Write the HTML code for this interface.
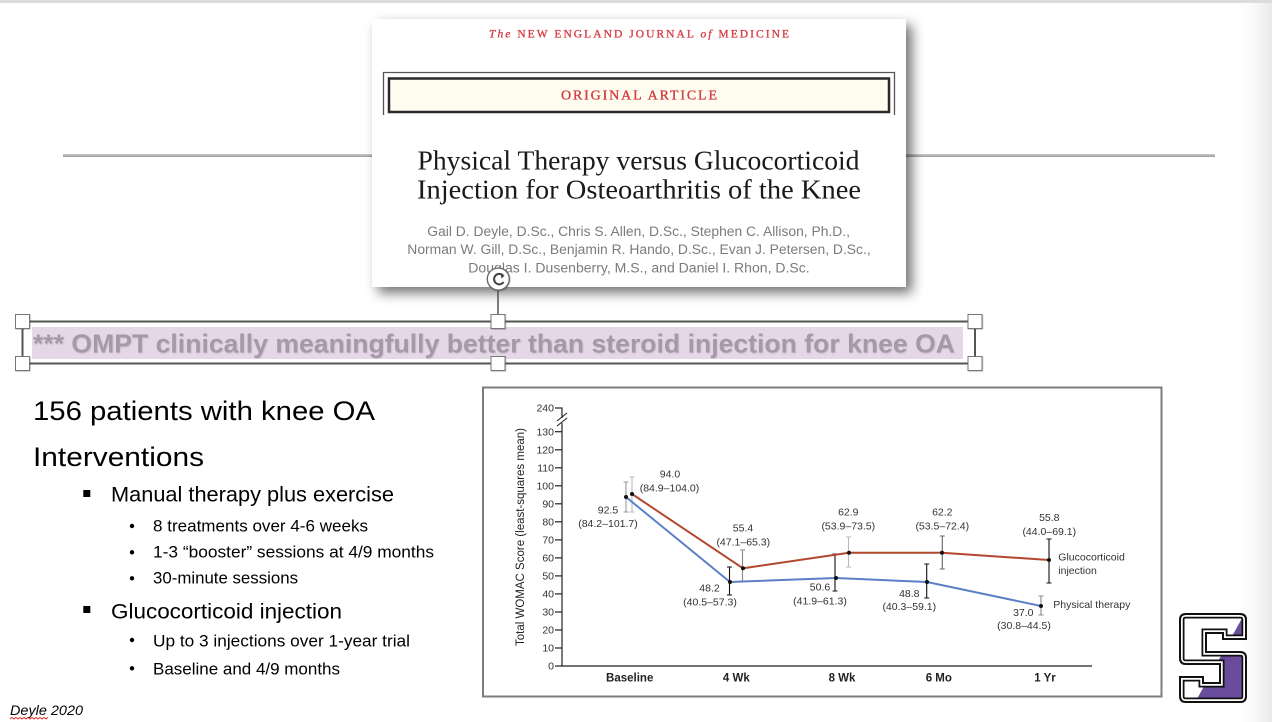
<!DOCTYPE html>
<html>
<head>
<meta charset="utf-8">
<style>
html,body{margin:0;padding:0;background:#fff;}
body{width:1272px;height:722px;overflow:hidden;}
svg{display:block;}
</style>
</head>
<body>
<svg width="1272" height="722" viewBox="0 0 1272 722" xmlns="http://www.w3.org/2000/svg">
<defs>
  <filter id="cardShadow" x="-5%" y="-5%" width="115%" height="125%">
    <feDropShadow dx="6" dy="6" stdDeviation="6" flood-color="#000" flood-opacity="0.55"/>
  </filter>
  <filter id="hShadow" x="-20%" y="-20%" width="160%" height="160%">
    <feDropShadow dx="0.5" dy="0.5" stdDeviation="0.6" flood-color="#000" flood-opacity="0.35"/>
  </filter>
  <filter id="txtShadow" x="-2%" y="-20%" width="104%" height="150%">
    <feDropShadow dx="0.6" dy="0.8" stdDeviation="0.5" flood-color="#000" flood-opacity="0.15"/>
  </filter>
  <linearGradient id="rightFade" x1="0" y1="0" x2="1" y2="0">
    <stop offset="0" stop-color="#fff" stop-opacity="0"/>
    <stop offset="1" stop-color="#e9e9e9" stop-opacity="1"/>
  </linearGradient>
  <linearGradient id="hline" x1="0" y1="0" x2="0" y2="1">
    <stop offset="0" stop-color="#cfcfcf"/>
    <stop offset="1" stop-color="#9a9a9a"/>
  </linearGradient>
  <path id="sPath" d="M7,0 H61 Q68,0 68,7 V27 H43 V21 H28 V38 H61 Q68,38 68,45 V83 Q68,90 61,90 H7 Q0,90 0,83 V63 H25 V69 H40 V52 H7 Q0,52 0,45 V7 Q0,0 7,0 Z"/>
  <clipPath id="sClip">
    <use href="#sPath"/>
  </clipPath>
</defs>

<!-- slide background bits -->
<rect x="0" y="0" width="1272" height="722" fill="#fff"/>
<rect x="1232" y="0" width="40" height="722" fill="url(#rightFade)"/>
<rect x="0" y="0" width="1272" height="3" fill="#dcdcdc"/>

<!-- horizontal rule -->
<rect x="63" y="154" width="1152" height="3" fill="url(#hline)"/>

<!-- NEJM card -->
<g filter="url(#cardShadow)">
  <rect x="372" y="19" width="534" height="268" fill="#fff"/>
</g>
<text x="489" y="37.5" font-family="Liberation Serif, serif" font-size="11.5" fill="#d63f47" stroke="#d63f47" stroke-width="0.35" textLength="300" lengthAdjust="spacing"><tspan font-style="italic">The</tspan> NEW ENGLAND JOURNAL <tspan font-style="italic">of</tspan> MEDICINE</text>
<!-- outer frame (open bottom) -->
<path d="M383.5,115 V72.5 H894.5 V115" fill="none" stroke="#555" stroke-width="1.3"/>
<rect x="389" y="78.5" width="500" height="33.5" fill="#fffdf0" stroke="#2a2a2a" stroke-width="2.5"/>
<text x="561" y="99.5" font-family="Liberation Serif, serif" font-size="14" fill="#d43a40" stroke="#d43a40" stroke-width="0.35" textLength="156" lengthAdjust="spacing">ORIGINAL ARTICLE</text>
<text x="417.5" y="169.5" font-family="Liberation Serif, serif" font-size="27" fill="#1a1a1a" textLength="442" lengthAdjust="spacingAndGlyphs">Physical Therapy versus Glucocorticoid</text>
<text x="417" y="198.5" font-family="Liberation Serif, serif" font-size="27" fill="#1a1a1a" textLength="444" lengthAdjust="spacingAndGlyphs">Injection for Osteoarthritis of the Knee</text>
<g font-family="Liberation Sans, sans-serif" font-size="13.5" fill="#7b7b7b">
  <text x="427.3" y="236" textLength="422.7" lengthAdjust="spacingAndGlyphs">Gail D. Deyle, D.Sc., Chris S. Allen, D.Sc., Stephen C. Allison, Ph.D.,</text>
  <text x="407.3" y="254" textLength="463.4" lengthAdjust="spacingAndGlyphs">Norman W. Gill, D.Sc., Benjamin R. Hando, D.Sc., Evan J. Petersen, D.Sc.,</text>
  <text x="468.3" y="272.3" textLength="341.4" lengthAdjust="spacingAndGlyphs">Douglas I. Dusenberry, M.S., and Daniel I. Rhon, D.Sc.</text>
</g>

<!-- rotation handle -->
<line x1="498" y1="290" x2="498" y2="316" stroke="#555" stroke-width="1.5"/>
<g filter="url(#hShadow)">
  <circle cx="498.3" cy="279" r="11" fill="#fff" stroke="#666" stroke-width="1.3"/>
</g>
<path d="M503,275.5 A5.2,5.2 0 1 0 503.6,282" fill="none" stroke="#444" stroke-width="2"/>
<path d="M500.5,273.5 L504.5,275.8 L501.5,278.5 Z" fill="#444"/>

<!-- selected textbox -->
<rect x="32" y="327" width="931" height="32" fill="#e5d7e7"/>
<text x="33" y="352.5" font-family="Liberation Sans, Arial, sans-serif" font-weight="bold" font-size="26" fill="#a698a8" textLength="922" lengthAdjust="spacingAndGlyphs" filter="url(#txtShadow)">*** OMPT clinically meaningfully better than steroid injection for knee OA</text>
<g stroke="#555" stroke-width="2" fill="none">
  <line x1="22.5" y1="321.5" x2="975" y2="321.5"/>
  <line x1="22.5" y1="363.5" x2="975" y2="363.5"/>
  <line x1="22.5" y1="321.5" x2="22.5" y2="363.5"/>
  <line x1="975" y1="321.5" x2="975" y2="363.5"/>
</g>
<g fill="#fff" stroke="#777" stroke-width="1" filter="url(#hShadow)">
  <rect x="15.5" y="314.5" width="14" height="14"/>
  <rect x="491" y="314.5" width="14" height="14"/>
  <rect x="968" y="314.5" width="14" height="14"/>
  <rect x="15.5" y="356.5" width="14" height="14"/>
  <rect x="491" y="356.5" width="14" height="14"/>
  <rect x="968" y="356.5" width="14" height="14"/>
</g>

<!-- left text -->
<g font-family="Liberation Sans, Carlito, sans-serif" fill="#000">
  <text x="33" y="420" font-size="27" textLength="342" lengthAdjust="spacingAndGlyphs">156 patients with knee OA</text>
  <text x="33" y="466" font-size="27" textLength="171" lengthAdjust="spacingAndGlyphs">Interventions</text>
  <rect x="83.3" y="490" width="7" height="7"/>
  <text x="111" y="501.7" font-size="21" textLength="283" lengthAdjust="spacingAndGlyphs">Manual therapy plus exercise</text>
  <circle cx="132" cy="526" r="2.2"/>
  <text x="153" y="531.7" font-size="16.3" textLength="215" lengthAdjust="spacingAndGlyphs">8 treatments over 4-6 weeks</text>
  <circle cx="132" cy="552.3" r="2.2"/>
  <text x="153" y="557.7" font-size="16.3" textLength="281" lengthAdjust="spacingAndGlyphs">1-3 “booster” sessions at 4/9 months</text>
  <circle cx="132" cy="578.3" r="2.2"/>
  <text x="153" y="583.7" font-size="16.3" textLength="145" lengthAdjust="spacingAndGlyphs">30-minute sessions</text>
  <rect x="83.3" y="606" width="7" height="7"/>
  <text x="111" y="618.3" font-size="21" textLength="231" lengthAdjust="spacingAndGlyphs">Glucocorticoid injection</text>
  <circle cx="132" cy="640" r="2.2"/>
  <text x="153" y="646.7" font-size="16.3" textLength="257" lengthAdjust="spacingAndGlyphs">Up to 3 injections over 1-year trial</text>
  <circle cx="132" cy="668.3" r="2.2"/>
  <text x="153" y="674.3" font-size="16.3" textLength="187" lengthAdjust="spacingAndGlyphs">Baseline and 4/9 months</text>
  <text x="10" y="715" font-size="14" font-style="italic" textLength="73" lengthAdjust="spacingAndGlyphs">Deyle 2020</text>
</g>
<path d="M10,719 l2,-1.6 l2,1.6 l2,-1.6 l2,1.6 l2,-1.6 l2,1.6 l2,-1.6 l2,1.6 l2,-1.6 l2,1.6 l2,-1.6 l2,1.6 l2,-1.6 l2,1.6 l2,-1.6 l2,1.6 l2,-1.6 l2,1.6 l2,-1.6" fill="none" stroke="#e02020" stroke-width="0.9"/>

<!-- chart frame -->
<rect x="483" y="387.5" width="678.5" height="309" fill="#fff" stroke="#7d7d7d" stroke-width="2"/>

<!-- axes -->
<g stroke="#222" stroke-width="1.2" fill="none">
  <line x1="562" y1="407.5" x2="562" y2="666"/>
  <line x1="562" y1="666" x2="1092" y2="666"/>
  <line x1="555" y1="408" x2="562" y2="408"/>
  <line x1="555" y1="431.7" x2="562" y2="431.7"/>
  <line x1="555" y1="449.8" x2="562" y2="449.8"/>
  <line x1="555" y1="467.8" x2="562" y2="467.8"/>
  <line x1="555" y1="485.8" x2="562" y2="485.8"/>
  <line x1="555" y1="503.8" x2="562" y2="503.8"/>
  <line x1="555" y1="521.8" x2="562" y2="521.8"/>
  <line x1="555" y1="539.9" x2="562" y2="539.9"/>
  <line x1="555" y1="557.9" x2="562" y2="557.9"/>
  <line x1="555" y1="575.9" x2="562" y2="575.9"/>
  <line x1="555" y1="593.9" x2="562" y2="593.9"/>
  <line x1="555" y1="612" x2="562" y2="612"/>
  <line x1="555" y1="630" x2="562" y2="630"/>
  <line x1="555" y1="648" x2="562" y2="648"/>
  <line x1="555" y1="666" x2="562" y2="666"/>
</g>
<!-- axis break -->
<rect x="559" y="418" width="6" height="5" fill="#fff"/>
<g stroke="#222" stroke-width="1.1">
  <line x1="557" y1="421" x2="567" y2="413"/>
  <line x1="557" y1="426" x2="567" y2="418"/>
</g>
<g font-family="Liberation Sans, sans-serif" font-size="10.5" fill="#333" text-anchor="end">
  <text x="554" y="411.7">240</text>
  <text x="554" y="435.4">130</text>
  <text x="554" y="453.5">120</text>
  <text x="554" y="471.5">110</text>
  <text x="554" y="489.5">100</text>
  <text x="554" y="507.5">90</text>
  <text x="554" y="525.5">80</text>
  <text x="554" y="543.6">70</text>
  <text x="554" y="561.6">60</text>
  <text x="554" y="579.6">50</text>
  <text x="554" y="597.6">40</text>
  <text x="554" y="615.7">30</text>
  <text x="554" y="633.7">20</text>
  <text x="554" y="651.7">10</text>
  <text x="554" y="669.7">0</text>
</g>
<text transform="translate(524,537) rotate(-90)" text-anchor="middle" font-family="Liberation Sans, sans-serif" font-size="11.5" fill="#222" textLength="218" lengthAdjust="spacingAndGlyphs">Total WOMAC Score (least-squares mean)</text>
<g font-family="Liberation Sans, sans-serif" font-size="11.5" font-weight="bold" fill="#222" text-anchor="middle">
  <text x="629.7" y="681.5">Baseline</text>
  <text x="736.3" y="681.5">4 Wk</text>
  <text x="842" y="681.5">8 Wk</text>
  <text x="938.8" y="681.5">6 Mo</text>
  <text x="1045" y="681.5">1 Yr</text>
</g>

<!-- error bars -->
<g stroke-width="1.1" fill="none">
  <path d="M626,482 V512 M623.5,482 H628.5 M623.5,512 H628.5" stroke="#999"/>
  <path d="M632,477 V512 M629.5,477 H634.5 M629.5,512 H634.5" stroke="#bbb"/>
  <path d="M729.5,567 V595 M727,567 H732 M727,595 H732" stroke="#111"/>
  <path d="M742.5,550 V581 M740,550 H745 M740,581 H745" stroke="#888"/>
  <path d="M835,554 V591 M832.5,554 H837.5 M832.5,591 H837.5" stroke="#111"/>
  <path d="M848.5,537 V567 M846,537 H851 M846,567 H851" stroke="#bbb"/>
  <path d="M926.7,564 V598 M924.2,564 H929.2 M924.2,598 H929.2" stroke="#111"/>
  <path d="M942.3,536 V569 M939.8,536 H944.8 M939.8,569 H944.8" stroke="#666"/>
  <path d="M1049,539 V583 M1046.5,539 H1051.5 M1046.5,583 H1051.5" stroke="#111"/>
  <path d="M1041,596 V615 M1038.5,596 H1043.5 M1038.5,615 H1043.5" stroke="#888"/>
</g>

<!-- series -->
<polyline points="626,497 730,582 836,578 927,582 1041,606" fill="none" stroke="#5b80c6" stroke-width="2"/>
<polyline points="632,494 743,568.3 849,552.7 942,552.7 1049,560" fill="none" stroke="#b4472f" stroke-width="2"/>
<g fill="#111">
  <circle cx="626" cy="497" r="2"/>
  <circle cx="730" cy="582" r="2"/>
  <circle cx="836" cy="578" r="2"/>
  <circle cx="927" cy="582" r="2"/>
  <circle cx="1041" cy="606" r="2"/>
  <circle cx="632" cy="494" r="2"/>
  <circle cx="743" cy="568.3" r="2"/>
  <circle cx="849" cy="552.7" r="2"/>
  <circle cx="942" cy="552.7" r="2"/>
  <circle cx="1049" cy="560" r="2"/>
</g>

<!-- data labels -->
<g font-family="Liberation Sans, sans-serif" font-size="10.5" fill="#333" text-anchor="middle">
  <text x="670" y="477.7">94.0</text>
  <text x="669.5" y="491.5">(84.9–104.0)</text>
  <text x="608" y="513.7">92.5</text>
  <text x="608" y="527">(84.2–101.7)</text>
  <text x="743" y="531.7">55.4</text>
  <text x="743.3" y="545.5">(47.1–65.3)</text>
  <text x="709.5" y="591.7">48.2</text>
  <text x="710" y="605.5">(40.5–57.3)</text>
  <text x="820" y="590.7">50.6</text>
  <text x="820" y="604.5">(41.9–61.3)</text>
  <text x="848.3" y="515.7">62.9</text>
  <text x="848.3" y="529.5">(53.9–73.5)</text>
  <text x="942.3" y="515.7">62.2</text>
  <text x="942.3" y="529.5">(53.5–72.4)</text>
  <text x="1049.3" y="521.2">55.8</text>
  <text x="1049.3" y="535.2">(44.0–69.1)</text>
  <text x="909.3" y="596.8">48.8</text>
  <text x="909.3" y="610.2">(40.3–59.1)</text>
  <text x="1023.3" y="615.8">37.0</text>
  <text x="1024" y="629.2">(30.8–44.5)</text>
</g>
<g font-family="Liberation Sans, sans-serif" font-size="10.5" fill="#333">
  <text x="1058.3" y="560.5">Glucocorticoid</text>
  <text x="1058.3" y="573.8">injection</text>
  <text x="1053.3" y="607.8">Physical therapy</text>
</g>

<!-- logo -->
<g transform="translate(1179,613)">
  <g clip-path="url(#sClip)">
    <rect x="-2" y="-2" width="72" height="94" fill="#fff"/>
    <polygon points="14,93 66,0 80,0 80,95" fill="#6a4c9c"/>
    <use href="#sPath" fill="none" stroke="#111" stroke-width="11"/>
    <use href="#sPath" fill="none" stroke="#fff" stroke-width="7.5"/>
    <use href="#sPath" fill="none" stroke="#111" stroke-width="4"/>
  </g>
</g>
</svg>
</body>
</html>
